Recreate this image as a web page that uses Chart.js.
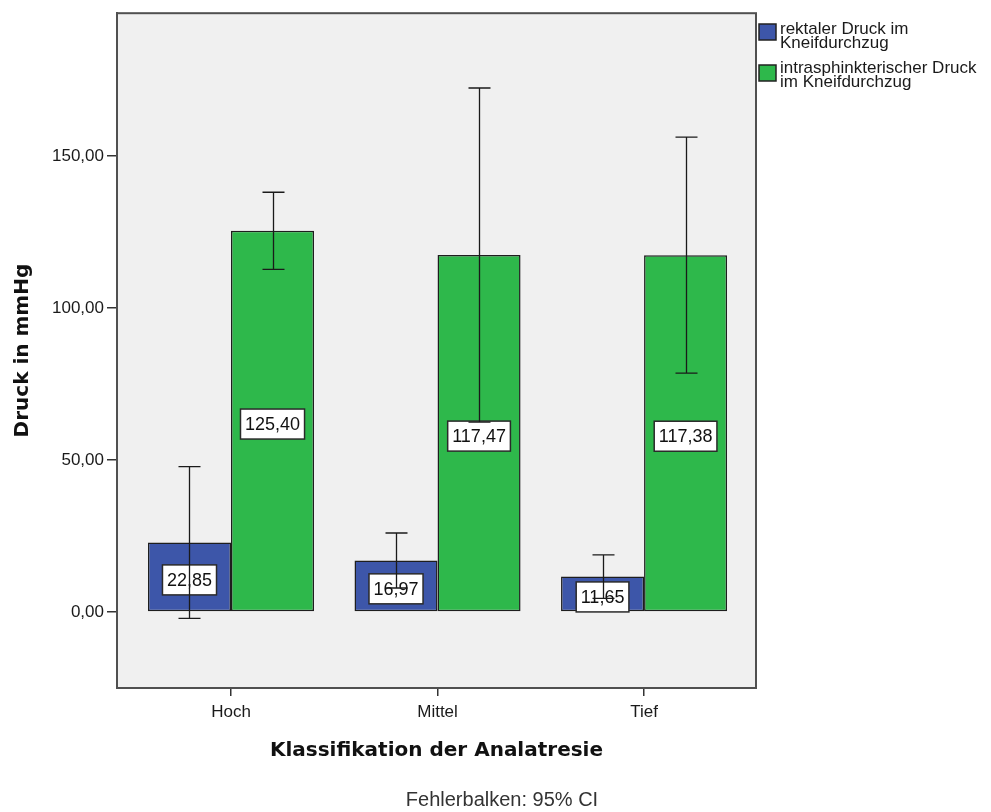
<!DOCTYPE html>
<html>
<head>
<meta charset="utf-8">
<script src="https://cdn.jsdelivr.net/npm/chart.js@4/dist/chart.umd.min.js"></script>
<style>
  html, body { margin: 0; padding: 0; background: #ffffff; }
  #wrap { width: 991px; height: 812px; }
</style>
</head>
<body>
<div id="wrap"><canvas id="c" width="991" height="812"></canvas></div>
<script>
// ---- data ----
const categories = ['Hoch', 'Mittel', 'Tief'];
const seriesNames = [
  ['rektaler Druck im', 'Kneifdurchzug'],
  ['intrasphinkterischer Druck', 'im Kneifdurchzug']
];
const rektalMean = [22.85, 16.97, 11.65];
const rektalLow  = [-2.1, 7.9, 4.5];
const rektalHigh = [47.8, 26.0, 18.8];
const intraMean  = [125.40, 117.47, 117.38];
const intraLow   = [112.7, 62.5, 78.6];
const intraHigh  = [138.1, 172.4, 156.2];
const yTicks = [0, 50, 100, 150];
const yTickLabels = ['0,00', '50,00', '100,00', '150,00'];
const meanLabels = [['22,85', '16,97', '11,65'], ['125,40', '117,47', '117,38']];
const yAxisTitle = 'Druck in mmHg';
const xAxisTitle = 'Klassifikation der Analatresie';
const footnote = 'Fehlerbalken: 95% CI';

const blue = '#3d56a9';
const green = '#2eb84b';
const colors = [blue, green];
const lows = [rektalLow, intraLow];
const highs = [rektalHigh, intraHigh];

const plotPlugin = {
  id: 'plotPlugin',
  beforeDatasetsDraw(chart) {
    const {ctx, chartArea: a} = chart;
    ctx.save();
    ctx.fillStyle = '#f0f0f0';
    ctx.fillRect(a.left, a.top, a.right - a.left, a.bottom - a.top);
    ctx.restore();
  },
  afterDatasetsDraw(chart) {
    const {ctx, chartArea: a} = chart;
    const y = chart.scales.y;
    ctx.save();
    // value labels
    ctx.font = '18px "Liberation Sans", Arial, sans-serif';
    ctx.textAlign = 'center';
    ctx.textBaseline = 'middle';
    chart.data.datasets.forEach((ds, di) => {
      const meta = chart.getDatasetMeta(di);
      meta.data.forEach((bar, i) => {
        const txt = meanLabels[di][i];
        const w = ctx.measureText(txt).width + 9;
        const h = 30;
        const cx = bar.x;
        const cy = (bar.y + bar.base) / 2 + 3;
        ctx.fillStyle = '#ffffff';
        ctx.fillRect(cx - w / 2, cy - h / 2, w, h);
        ctx.strokeStyle = '#2a2a2a';
        ctx.lineWidth = 1.5;
        ctx.strokeRect(cx - w / 2, cy - h / 2, w, h);
        ctx.fillStyle = '#111';
        ctx.fillText(txt, cx, cy + 1);
      });
    });
    // error bars
    ctx.strokeStyle = '#1a1a1a';
    ctx.lineWidth = 1.3;
    chart.data.datasets.forEach((ds, di) => {
      const meta = chart.getDatasetMeta(di);
      meta.data.forEach((bar, i) => {
        const x = Math.round(bar.x) + 0.5;
        const yl = y.getPixelForValue(lows[di][i]);
        const yh = y.getPixelForValue(highs[di][i]);
        ctx.beginPath();
        ctx.moveTo(x, yl); ctx.lineTo(x, yh);
        ctx.moveTo(x - 11, yl); ctx.lineTo(x + 11, yl);
        ctx.moveTo(x - 11, yh); ctx.lineTo(x + 11, yh);
        ctx.stroke();
      });
    });
    // frame
    ctx.strokeStyle = '#505050';
    ctx.lineWidth = 2;
    ctx.strokeRect(a.left, a.top, a.right - a.left, a.bottom - a.top);
    ctx.restore();
  },
  afterDraw(chart) {
    const {ctx} = chart;
    ctx.save();
    // legend
    const boxY = [24, 65];
    const textY = [[34, 48], [73, 87]];
    ctx.font = '17px "Liberation Sans", Arial, sans-serif';
    ctx.textAlign = 'left';
    ctx.textBaseline = 'alphabetic';
    for (let k = 0; k < 2; k++) {
      ctx.fillStyle = colors[k];
      ctx.fillRect(759, boxY[k], 17, 16);
      ctx.strokeStyle = '#222';
      ctx.lineWidth = 1.5;
      ctx.strokeRect(759, boxY[k], 17, 16);
      ctx.fillStyle = '#1a1a1a';
      seriesNames[k].forEach((line, j) => ctx.fillText(line, 780, textY[k][j]));
    }
    // footnote
    ctx.font = '20px "Liberation Sans", Arial, sans-serif';
    ctx.textAlign = 'center';
    ctx.textBaseline = 'middle';
    ctx.fillStyle = '#333';
    ctx.fillText(footnote, 502, 800);
    ctx.restore();
  }
};

const datasets = [rektalMean, intraMean].map((vals, k) => ({
  label: seriesNames[k].join(' '),
  data: vals.map((v, i) => ({x: i + 1, y: v})),
  backgroundColor: colors[k],
  borderColor: '#1e1e1e',
  borderWidth: 1.5,
  borderSkipped: false,
  categoryPercentage: 0.804,
  barPercentage: 1.0
}));

new Chart(document.getElementById('c'), {
  type: 'bar',
  data: { datasets },
  plugins: [plotPlugin],
  options: {
    responsive: false,
    animation: false,
    layout: { padding: { top: 13, right: 235, left: 0, bottom: 0 } },
    plugins: { legend: { display: false }, tooltip: { enabled: false } },
    scales: {
      x: {
        type: 'linear',
        min: 0.448,
        max: 3.542,
        offset: false,
        afterBuildTicks: (s) => { s.ticks = categories.map((c, i) => ({ value: i + 1 })); },
        afterFit: (s) => { s.height = 124; },
        ticks: {
          callback: (v) => categories[Math.round(v) - 1] || '',
          font: { family: '"Liberation Sans", Arial, sans-serif', size: 17 },
          color: '#1a1a1a',
          padding: 6,
          maxRotation: 0,
          autoSkip: false
        },
        grid: { offset: false, drawOnChartArea: false, tickLength: 8, color: '#333', lineWidth: 1.5 },
        border: { display: true, color: '#505050', width: 2 },
        title: {
          display: true,
          text: xAxisTitle,
          font: { family: '"DejaVu Sans", sans-serif', size: 20, weight: 'bold' },
          color: '#111',
          padding: { top: 0, bottom: 49 }
        }
      },
      y: {
        min: -25,
        max: 197,
        afterBuildTicks: (s) => { s.ticks = yTicks.map(v => ({ value: v })); },
        afterFit: (s) => { s.width = 117; },
        ticks: {
          callback: (v) => { const i = yTicks.indexOf(v); return i >= 0 ? yTickLabels[i] : ''; },
          font: { family: '"Liberation Sans", Arial, sans-serif', size: 17 },
          color: '#1a1a1a',
          padding: 3
        },
        grid: { drawOnChartArea: false, tickLength: 10, color: '#333', lineWidth: 1.5 },
        border: { display: true, color: '#505050', width: 2 },
        title: {
          display: true,
          text: yAxisTitle,
          font: { family: '"DejaVu Sans", sans-serif', size: 20, weight: 'bold' },
          color: '#111',
          padding: { top: 11, bottom: 0 }
        }
      }
    }
  }
});
</script>
</body>
</html>
